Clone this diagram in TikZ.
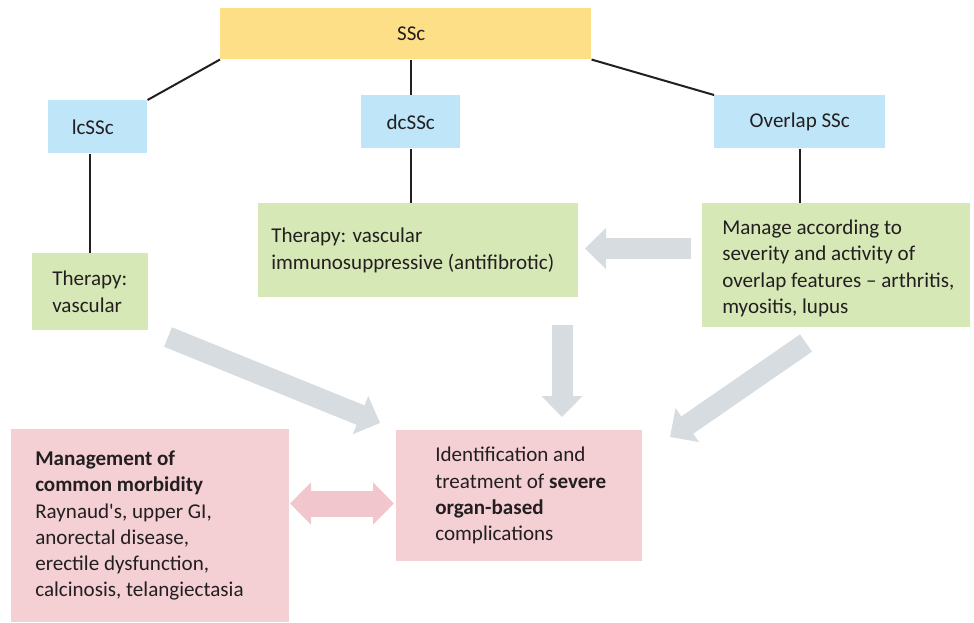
\documentclass[tikz,border=0pt]{standalone}
\usepackage{fontspec}
\newfontfamily\cfont{Carlito}
\usetikzlibrary{arrows.meta}
\newdimen\pxu \pxu=0.75pt
\definecolor{cyel}{HTML}{FDDF87}
\definecolor{cblue}{HTML}{BFE6F8}
\definecolor{cgreen}{HTML}{D7E8B7}
\definecolor{cpink}{HTML}{F4D0D5}
\definecolor{cpinkarrow}{HTML}{F2C6CD}
\definecolor{cgrayarrow}{HTML}{D6DCDF}
\definecolor{ctext}{HTML}{231F20}
\begin{document}
\begin{tikzpicture}[x=0.75pt,y=-0.75pt,
  font=\cfont\fontsize{15.8}{19.7}\selectfont,
  every node/.style={text=ctext},
  boxnode/.style={inner sep=0pt, anchor=north west},
  txt/.style={inner sep=0pt, anchor=west, align=left},
  link/.style={draw=ctext, line width=1.5pt},
  garrow/.style={draw=cgrayarrow, line width=15.75pt, -{Triangle[width=30pt,length=15.75pt]}},
  parrow/.style={draw=cpinkarrow, line width=19.5pt, {Triangle[width=30.75pt,length=15.75pt]}-{Triangle[width=30.75pt,length=15.75pt]}}
]
\useasboundingbox (0,0) rectangle (974,622);

% top level
\node[boxnode, fill=cyel, minimum width=371\pxu, minimum height=51\pxu] (ssc) at (220,8) {};
\node[inner sep=0pt] (ssct) at ([xshift=5.5\pxu]ssc.center) {SSc};

% subtypes
\node[boxnode, fill=cblue, minimum width=99\pxu, minimum height=53\pxu] (lc) at (48,100) {};
\node[inner sep=0pt] (lct) at ([xshift=-5\pxu]lc.center) {lcSSc};
\node[boxnode, fill=cblue, minimum width=99\pxu, minimum height=53\pxu] (dc) at (361,95) {};
\node[inner sep=0pt] (dct) at (dc.center) {dcSSc};
\node[boxnode, fill=cblue, minimum width=171\pxu, minimum height=53\pxu] (ov) at (714,95) {};
\node[inner sep=0pt] (ovt) at (ov.center) {Overlap SSc};

% therapies
\node[boxnode, fill=cgreen, minimum width=116\pxu, minimum height=77\pxu] (tv) at (32,253) {};
\node[txt] (tvt) at ([xshift=20\pxu]tv.west) {Therapy:\\vascular};
\node[boxnode, fill=cgreen, minimum width=320\pxu, minimum height=94\pxu] (ti) at (258,203) {};
\node[txt] (tit) at ([xshift=13\pxu]ti.west) {Therapy: vascular\\immunosuppressive (antifibrotic)};
\node[boxnode, fill=cgreen, minimum width=268\pxu, minimum height=124\pxu] (mg) at (702,203) {};
\node[txt] (mgt) at ([xshift=20\pxu,yshift=-3\pxu]mg.west) {Manage according to\\severity and activity of\\overlap features – arthritis,\\myositis, lupus};

% bottom
\node[boxnode, fill=cpink, minimum width=278\pxu, minimum height=193\pxu] (cm) at (11,429) {};
\node[txt] (cmt) at ([xshift=24\pxu]cm.west) {\textbf{Management of}\\\textbf{common morbidity}\\Raynaud's, upper GI,\\anorectal disease,\\erectile dysfunction,\\calcinosis, telangiectasia};
\node[boxnode, fill=cpink, minimum width=246\pxu, minimum height=131\pxu] (id) at (396,430) {};
\node[txt] (idt) at ([xshift=39\pxu]id.west) {Identification and\\treatment of \textbf{severe}\\\textbf{organ-based}\\complications};

% connecting lines
\draw[link] (ssc.south west) -- (lc.north east);
\draw[link] (dc.north) -- (dc.north |- ssc.south);
\draw[link] (ssc.south east) -- (ov.north west);
\draw[link] (tv.north) -- (tv.north |- lc.south);
\draw[link] (dc.south) -- (dc.south |- ti.north);
\draw[link] (ov.south) -- (ov.south |- mg.north);

% block arrows
\coordinate (a1s) at (691,248.5);
\coordinate (a1e) at (585,248.5);
\draw[garrow] (a1s) -- (a1e);
\coordinate (a2s) at (562,325);
\coordinate (a2e) at (562,417);
\draw[garrow] (a2s) -- (a2e);
\coordinate (a3s) at (168,337);
\coordinate (a3e) at (380,423);
\draw[garrow] (a3s) -- (a3e);
\coordinate (a4s) at (806,343);
\coordinate (a4e) at (670,437);
\draw[garrow] (a4s) -- (a4e);
\coordinate (a5s) at (290,503.5);
\coordinate (a5e) at (394,503.5);
\draw[parrow] (a5s) -- (a5e);
\end{tikzpicture}
\end{document}
